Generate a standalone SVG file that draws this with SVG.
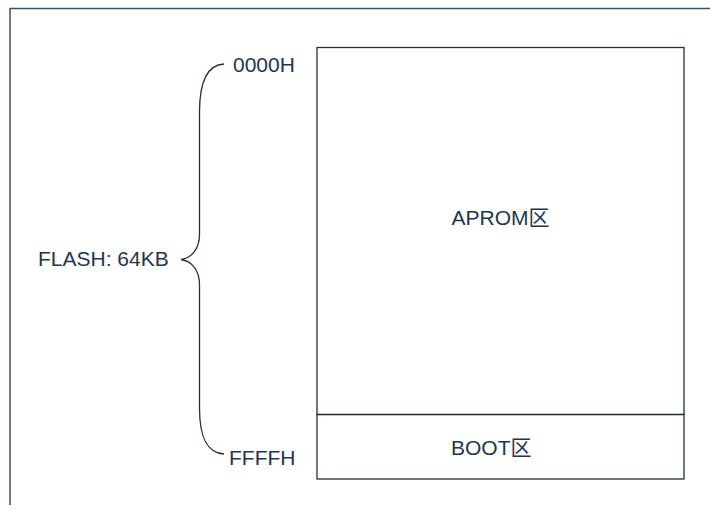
<svg xmlns="http://www.w3.org/2000/svg" width="710" height="510" viewBox="0 0 710 510">
<style>
.t{font-family:"Liberation Sans",Arial,"Noto Sans CJK SC",sans-serif;font-size:21px;fill:#1f3650}
.ln{fill:none;stroke:#1f3048;stroke-width:1.3}
</style>
<rect width="710" height="510" fill="#ffffff"/>
<g id="frame">
<path d="M10,505 L10,8.5 L710,8.5" fill="none" stroke="#3c5066" stroke-width="1.5"/>
</g>
<g id="aprom">
<rect x="317" y="47.5" width="367" height="367" class="ln"/>
<text x="500.5" y="225" text-anchor="middle" class="t">APROM区</text>
</g>
<g id="boot">
<rect x="317" y="414.5" width="367" height="64.5" class="ln"/>
<text x="451" y="455" class="t">BOOT区</text>
</g>
<g id="connectors">
<path class="ln" d="M224,64 C206,65 199.5,85 199.5,112 L199.5,234 C199.5,250 191,258 181,259.5 C191,261 199.5,269 199.5,285 L199.5,408 C199.5,436 206,453 224,454"/>
</g>
<g id="labels">
<text x="233" y="72" class="t">0000H</text>
<text x="229" y="465" class="t">FFFFH</text>
<text x="38" y="266" class="t">FLASH: 64KB</text>
</g>
</svg>
